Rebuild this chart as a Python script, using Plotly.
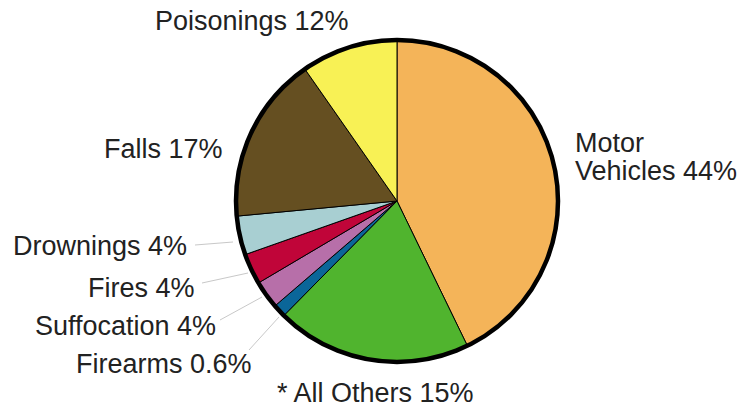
import plotly.graph_objects as go

# Data (clockwise from 12 o'clock)
categories = ["Motor Vehicles", "* All Others", "Firearms", "Suffocation",
              "Fires", "Drownings", "Falls", "Poisonings"]
shares = [42.8, 19.6, 1.3, 2.8, 3.1, 3.9, 16.8, 9.7]
label_texts = ["Motor<br>Vehicles 44%", "* All Others 15%", "Firearms 0.6%",
               "Suffocation 4%", "Fires 4%", "Drownings 4%", "Falls 17%",
               "Poisonings 12%"]
colors = ["#F4B459", "#50B42E", "#0B6699", "#B76FA9", "#C00539",
          "#A8CFD2", "#654F21", "#F8F155"]

W, H = 744, 409
CX, CY, R = 397, 201, 161


def px(x):
    return x / W


def py(y):
    return 1 - y / H


fig = go.Figure(go.Pie(
    labels=categories, values=shares, sort=False, direction="clockwise",
    rotation=0, textinfo="none", hoverinfo="label+percent",
    marker=dict(colors=colors, line=dict(color="black", width=1)),
    domain=dict(x=[px(CX - R), px(CX + R)], y=[py(CY + R), py(CY - R)]),
    showlegend=False,
))

# outer thick ring
fig.add_shape(type="circle", xref="paper", yref="paper",
              x0=px(CX - R), x1=px(CX + R), y0=py(CY + R), y1=py(CY - R),
              line=dict(color="black", width=4.5))

# label placement (pixel anchors: x, y of first line, anchor)
label_pos = {
    "Motor Vehicles": (573, 143, "left"),
    "* All Others": (275, 393, "left"),
    "Firearms": (254, 364, "right"),
    "Suffocation": (218, 326, "right"),
    "Fires": (197, 288, "right"),
    "Drownings": (189, 246, "right"),
    "Falls": (225, 149, "right"),
    "Poisonings": (252, 21, "center"),
}
LINE_GAP = 28
for cat, txt in zip(categories, label_texts):
    x, y, anc = label_pos[cat]
    for i, line in enumerate(txt.split("<br>")):
        fig.add_annotation(x=px(x), y=py(y + i * LINE_GAP), xref="paper",
                           yref="paper", text=line, showarrow=False,
                           xanchor=anc, yanchor="middle", align="left",
                           font=dict(family="Liberation Sans", size=27,
                                     color="#222222"))

# leader lines
leaders = [((195, 245), (233, 242)), ((202, 283), (248, 273)),
           ((220, 320), (262, 297)), ((249, 350), (279, 317))]
for (x0, y0), (x1, y1) in leaders:
    fig.add_shape(type="line", xref="paper", yref="paper",
                  x0=px(x0), y0=py(y0), x1=px(x1), y1=py(y1),
                  line=dict(color="#C8C8C8", width=1))

fig.update_layout(width=W, height=H, margin=dict(l=0, r=0, t=0, b=0),
                  paper_bgcolor="white", plot_bgcolor="white")

fig.write_html("out.html", config={"displayModeBar": False},
               post_script="document.body.style.margin='0';"
                           "document.body.style.overflow='hidden';")
